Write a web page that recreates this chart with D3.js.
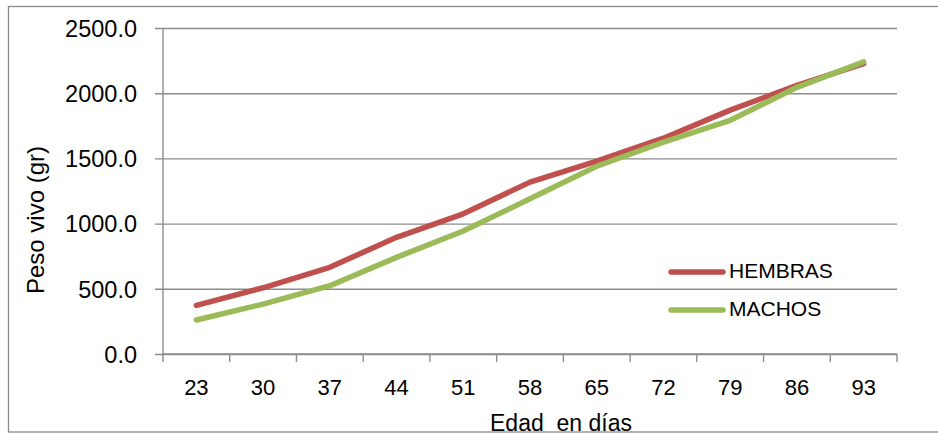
<!DOCTYPE html>
<html><head><meta charset="utf-8">
<script src="https://cdn.jsdelivr.net/npm/d3@7"></script>
<style>
html,body{margin:0;padding:0;background:#fff;}
text{font-family:"Liberation Sans",Arial,sans-serif;fill:#000;}
</style></head>
<body><svg id="chart" width="938" height="435"></svg>
<script>
const categories = ["23","30","37","44","51","58","65","72","79","86","93"];
const hembras = [373, 508, 665, 895, 1075, 1318, 1480, 1655, 1870, 2060, 2226];
const machos  = [261, 383, 524, 741, 943, 1190, 1440, 1625, 1792, 2045, 2240];
const yTicks = [0, 500, 1000, 1500, 2000, 2500];
const seriesNames = ["HEMBRAS", "MACHOS"];
const seriesColors = ["#C0504D", "#9BBB59"];

const svg = d3.select("#chart");
const L = 163, R = 897, T = 28, B = 354;

// outer frame (right edge outside the picture)
svg.append("rect").attr("x", 8.5).attr("y", 6.5).attr("width", 960).attr("height", 425.5)
  .attr("fill", "none").attr("stroke", "#8a8a8a").attr("stroke-width", 1.3);

const x = d3.scaleBand().domain(categories).range([L, R]);
const y = d3.scaleLinear().domain([0, 2500]).range([B, T]);

// gridlines + y ticks
const yAxis = d3.axisLeft(y).tickValues(yTicks).tickSize(-(R - L)).tickSizeOuter(0)
  .tickFormat(d => d3.format(".1f")(d));
const gy = svg.append("g").attr("transform", `translate(${L},0)`).call(yAxis);
gy.select(".domain").remove();
gy.selectAll(".tick line").attr("x1", -8).attr("stroke", "#8c8c8c").attr("stroke-width", 1.4);
gy.selectAll(".tick text").attr("x", -26).attr("dy", "0.35em")
  .style("font-size", "23.5px");

// y axis line
svg.append("line").attr("x1", L).attr("x2", L).attr("y1", T).attr("y2", B + 0.5)
  .attr("stroke", "#8c8c8c").attr("stroke-width", 1.4);

// x axis
const gx = svg.append("g").attr("transform", `translate(0,${B})`)
  .call(d3.axisBottom(x).tickSize(0).tickSizeOuter(0));
gx.select(".domain").remove();
gx.selectAll(".tick text").attr("y", 35).attr("dy", "0").style("font-size", "22px")
  .attr("dominant-baseline", "middle");
svg.append("line").attr("x1", L).attr("x2", R).attr("y1", B).attr("y2", B)
  .attr("stroke", "#8c8c8c").attr("stroke-width", 1.4);
const bounds = categories.map(c => x(c)).concat([R]);
svg.append("g").selectAll("line").data(bounds).join("line")
  .attr("x1", d => d).attr("x2", d => d).attr("y1", B).attr("y2", B + 8)
  .attr("stroke", "#8c8c8c").attr("stroke-width", 1.4);

// lines
const line = d3.line().x((d, i) => x(categories[i]) + x.bandwidth() / 2).y(d => y(d));
[hembras, machos].forEach((s, i) => {
  svg.append("path").datum(s).attr("d", line).attr("fill", "none")
    .attr("stroke", seriesColors[i]).attr("stroke-width", 5.5)
    .attr("stroke-linecap", "round").attr("stroke-linejoin", "round");
});

// legend
const lg = svg.append("g");
seriesNames.forEach((n, i) => {
  const ly = 272 + i * 38;
  lg.append("line").attr("x1", 671).attr("x2", 723).attr("y1", ly).attr("y2", ly)
    .attr("stroke", seriesColors[i]).attr("stroke-width", 5.5).attr("stroke-linecap", "round");
  lg.append("text").attr("x", 729).attr("y", ly).attr("dominant-baseline", "middle")
    .style("font-size", "21px").text(n);
});

// axis titles
svg.append("text").attr("x", 561).attr("y", 425).attr("text-anchor", "middle")
  .attr("dominant-baseline", "middle").style("font-size", "23px").style("white-space", "pre")
  .attr("xml:space", "preserve").text("Edad  en días");
svg.append("text").attr("transform", "translate(38,220) rotate(-90)").attr("text-anchor", "middle")
  .attr("dominant-baseline", "middle").style("font-size", "24px").text("Peso vivo (gr)");
</script></body></html>
